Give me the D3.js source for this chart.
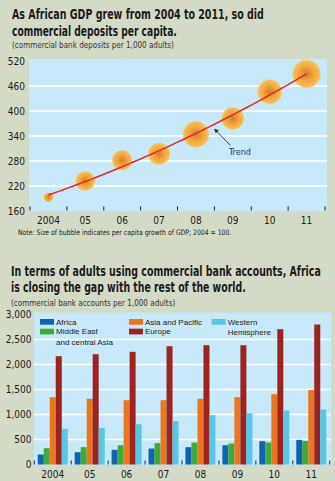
<!DOCTYPE html>
<html><head><meta charset="utf-8">
<script src="https://cdn.jsdelivr.net/npm/d3@7"></script>
<style>
html,body{margin:0;padding:0;background:#d3dac5;}
svg{display:block;}
</style></head>
<body>
<svg id="c" width="335" height="481"></svg>
<script>
// ---------- DATA ----------
const years = ["2004","05","06","07","08","09","10","11"];
// Chart 1: commercial bank deposits per 1,000 adults (Africa)
const deposits = [193, 232, 282, 297, 344, 382, 446, 489];
// per capita GDP growth index (2004 = 100), drives bubble size (estimated)
const gdpIndex = [100, 116, 117, 120, 127, 121, 124, 130];
const yTicks1 = [160, 220, 280, 340, 400, 460, 520];

// Chart 2: commercial bank accounts per 1,000 adults
const regions = ["Africa", "Middle East and central Asia", "Asia and Pacific", "Europe", "Western Hemisphere"];
const africa   = [200, 246, 293, 320, 346, 386, 466, 493];
const mideast  = [326, 346, 386, 426, 440, 420, 440, 473];
const asiaPac  = [1346, 1313, 1286, 1286, 1313, 1346, 1406, 1493];
const europe   = [2166, 2206, 2253, 2366, 2386, 2386, 2706, 2800];
const westHem  = [712, 733, 806, 866, 986, 1026, 1080, 1100];
const yTicks2 = [0, 500, 1000, 1500, 2000, 2500, 3000];

const colors = ["#0f63b3", "#3dab38", "#ea7720", "#9c2320", "#57c7e6"];
const seriesVals = [africa, mideast, asiaPac, europe, westHem];

// ---------- STYLE ----------
const NARROW = "'Liberation Sans Narrow','Arial Narrow','DejaVu Sans Condensed',sans-serif";
const SANS = "'Liberation Sans',Arial,sans-serif";
const PANEL = "#c7e9f9";
const INK = "#1b1b1b";

const svg = d3.select("#c");

function txt(x, y, s, opts) {
  const g = svg.append("g").attr("transform", `translate(${x},${y})`);
  const t = g.append("text").attr("x", 0).attr("y", 0).text(s)
    .attr("font-family", opts.family || NARROW)
    .attr("font-size", opts.size)
    .attr("font-weight", opts.weight || "normal")
    .attr("fill", opts.fill || INK);
  if (opts.anchor) t.attr("text-anchor", opts.anchor);
  if (opts.len) {
    const w = t.node().getComputedTextLength();
    if (w > 0) t.attr("transform", `scale(${opts.len / w},1)`);
  }
  return t;
}

// ---------- CHART 1 ----------
txt(12, 19, "As African GDP grew from 2004 to 2011, so did", {size: 13.5, weight: "bold", len: 252});
txt(12, 36, "commercial deposits per capita.", {size: 13.5, weight: "bold", len: 165});
txt(12, 48.3, "(commercial bank deposits per 1,000 adults)", {size: 9, fill: "#333", len: 162});

const p1 = {l: 29, r: 327, t: 59, b: 211};
svg.append("rect").attr("x", p1.l).attr("y", p1.t).attr("width", p1.r - p1.l).attr("height", p1.b - p1.t).attr("fill", PANEL);

const x1 = d3.scaleBand().domain(years).range([30, 325]);
const y1 = d3.scaleLinear().domain([160, 520]).range([211, 61]);
const xc1 = d3.scaleLinear().domain([0, years.length - 1])
  .range([x1(years[0]) + x1.bandwidth() / 2, x1(years[years.length - 1]) + x1.bandwidth() / 2]);

// gridlines
svg.append("g").selectAll("line").data(yTicks1.slice(1, -1)).join("line")
  .attr("x1", p1.l).attr("x2", p1.r).attr("y1", d => y1(d)).attr("y2", d => y1(d))
  .attr("stroke", "#fff").attr("stroke-width", 1.6);

// y axis
const ya1 = svg.append("g").attr("transform", `translate(${p1.l},0)`)
  .call(d3.axisLeft(y1).tickValues(yTicks1).tickSize(0).tickPadding(4));
ya1.select(".domain").remove();
ya1.selectAll("text").attr("font-family", NARROW).attr("font-size", 10).attr("fill", INK);

// x axis
const xa1 = svg.append("g").attr("transform", `translate(0,${p1.b})`)
  .call(d3.axisBottom(x1).tickSize(0).tickPadding(6));
xa1.select(".domain").remove();
xa1.selectAll("text").attr("font-family", NARROW).attr("font-size", 10).attr("fill", INK);
// boundary ticks
const bounds1 = years.map(d => x1(d)).concat([x1(years[years.length - 1]) + x1.bandwidth()]);
svg.append("g").selectAll("line").data(bounds1).join("line")
  .attr("x1", d => d).attr("x2", d => d).attr("y1", p1.b - 4.5).attr("y2", p1.b - 0.5)
  .attr("stroke", "#222").attr("stroke-width", 1);

// bubble gradient
const defs = svg.append("defs");
const rg = defs.append("radialGradient").attr("id", "bub");
rg.append("stop").attr("offset", "0%").attr("stop-color", "#d27b2e");
rg.append("stop").attr("offset", "40%").attr("stop-color", "#eb9d3a");
rg.append("stop").attr("offset", "78%").attr("stop-color", "#fab645");
rg.append("stop").attr("offset", "92%").attr("stop-color", "#fbbc4c").attr("stop-opacity", 0.9);
rg.append("stop").attr("offset", "100%").attr("stop-color", "#fbc050").attr("stop-opacity", 0.35);

const rScale = d3.scaleLinear().domain([100, 130]).range([5, 14.2]);
svg.append("g").selectAll("circle").data(deposits).join("circle")
  .attr("cx", (d, i) => xc1(i)).attr("cy", d => y1(d))
  .attr("r", (d, i) => rScale(gdpIndex[i]))
  .attr("fill", "url(#bub)");

// trend: least-squares quadratic fit of the deposits series
(function () {
  const n = deposits.length;
  const xs = deposits.map((d, i) => i);
  const mx = d3.mean(xs), my = d3.mean(deposits);
  const t = xs.map(x => x - mx);
  const mt2 = d3.mean(t, v => v * v);
  const q = t.map(v => v * v - mt2);
  const b = d3.sum(t, (v, i) => v * deposits[i]) / d3.sum(t, v => v * v);
  const c = d3.sum(q, (v, i) => v * deposits[i]) / d3.sum(q, v => v * v);
  const f = x => my + b * (x - mx) + c * ((x - mx) * (x - mx) - mt2);
  const pts = d3.range(0, n - 1 + 1e-9, 0.1).map(x => [xc1(x), y1(f(x))]);
  svg.append("path").attr("d", d3.line()(pts)).attr("fill", "none")
    .attr("stroke", "#e8262a").attr("stroke-width", 1.5);
})();

// Trend annotation
defs.append("marker").attr("id", "arr").attr("viewBox", "0 0 10 10").attr("refX", 9).attr("refY", 5)
  .attr("markerWidth", 5).attr("markerHeight", 5).attr("orient", "auto")
  .append("path").attr("d", "M0,0 L10,5 L0,10 z").attr("fill", "#333");
svg.append("line").attr("x1", 230.5).attr("y1", 145.5).attr("x2", 214.5).attr("y2", 129)
  .attr("stroke", "#333").attr("stroke-width", 0.9).attr("marker-end", "url(#arr)");
txt(229, 155, "Trend", {size: 9, fill: "#2a3a5a"});

txt(18, 234.5, "Note: Size of bubble indicates per capita growth of GDP; 2004 = 100.", {size: 7.5, fill: "#222", len: 214});

// ---------- CHART 2 ----------
txt(11, 275.7, "In terms of adults using commercial bank accounts, Africa", {size: 13.5, weight: "bold", len: 310});
txt(11, 292.3, "is closing the gap with the rest of the world.", {size: 13.5, weight: "bold", len: 235});
txt(11, 305.7, "(commercial bank accounts per 1,000 adults)", {size: 9, fill: "#333", len: 164.5});

const p2 = {l: 34, r: 331, t: 312.5, b: 465};
svg.append("rect").attr("x", p2.l).attr("y", p2.t).attr("width", p2.r - p2.l).attr("height", p2.b - p2.t).attr("fill", PANEL);

const x2 = d3.scaleBand().domain(years).range([34.3, 329.7]);
const y2 = d3.scaleLinear().domain([0, 3000]).range([464.5, 314.5]);
const groupW = 30;
const xs2 = d3.scaleBand().domain(regions)
  .range([(x2.bandwidth() - groupW) / 2, (x2.bandwidth() + groupW) / 2]);

svg.append("g").selectAll("line").data(yTicks2.slice(1, -1)).join("line")
  .attr("x1", p2.l).attr("x2", p2.r).attr("y1", d => y2(d)).attr("y2", d => y2(d))
  .attr("stroke", "#fff").attr("stroke-width", 1.6);

const ya2 = svg.append("g").attr("transform", `translate(${p2.l},0)`)
  .call(d3.axisLeft(y2).tickValues(yTicks2).tickSize(0).tickPadding(2.5).tickFormat(d3.format(",")));
ya2.select(".domain").remove();
ya2.selectAll("text").attr("font-family", NARROW).attr("font-size", 10).attr("fill", INK);

// bars
regions.forEach((reg, si) => {
  svg.append("g").selectAll("rect").data(seriesVals[si]).join("rect")
    .attr("x", (d, i) => x2(years[i]) + xs2(reg))
    .attr("width", xs2.bandwidth())
    .attr("y", d => y2(d))
    .attr("height", d => y2(0) - y2(d))
    .attr("fill", colors[si]);
});

const xa2 = svg.append("g").attr("transform", `translate(0,${p2.b})`)
  .call(d3.axisBottom(x2).tickSize(0).tickPadding(6));
xa2.select(".domain").remove();
xa2.selectAll("text").attr("font-family", NARROW).attr("font-size", 10).attr("fill", INK);
const bounds2 = years.map(d => x2(d)).concat([x2(years[years.length - 1]) + x2.bandwidth()]);
svg.append("g").selectAll("line").data(bounds2).join("line")
  .attr("x1", d => d).attr("x2", d => d).attr("y1", p2.b - 4.5).attr("y2", p2.b - 0.5)
  .attr("stroke", "#222").attr("stroke-width", 1);

// legend
const legendItems = [
  {i: 0, x: 40, y: 319, lines: ["Africa"]},
  {i: 1, x: 40, y: 328.7, lines: ["Middle East", "and central Asia"]},
  {i: 2, x: 129, y: 319, lines: ["Asia and Pacific"]},
  {i: 3, x: 129, y: 328.7, lines: ["Europe"]},
  {i: 4, x: 211.7, y: 319, lines: ["Western", "Hemisphere"]}
];
legendItems.forEach(it => {
  svg.append("rect").attr("x", it.x).attr("y", it.y).attr("width", 14).attr("height", 5.7).attr("fill", colors[it.i]);
  it.lines.forEach((s, k) => {
    txt(it.x + 16, it.y + 5.6 + k * 10.3, s, {size: 8, family: SANS, fill: "#222"});
  });
});
</script>
</body></html>
